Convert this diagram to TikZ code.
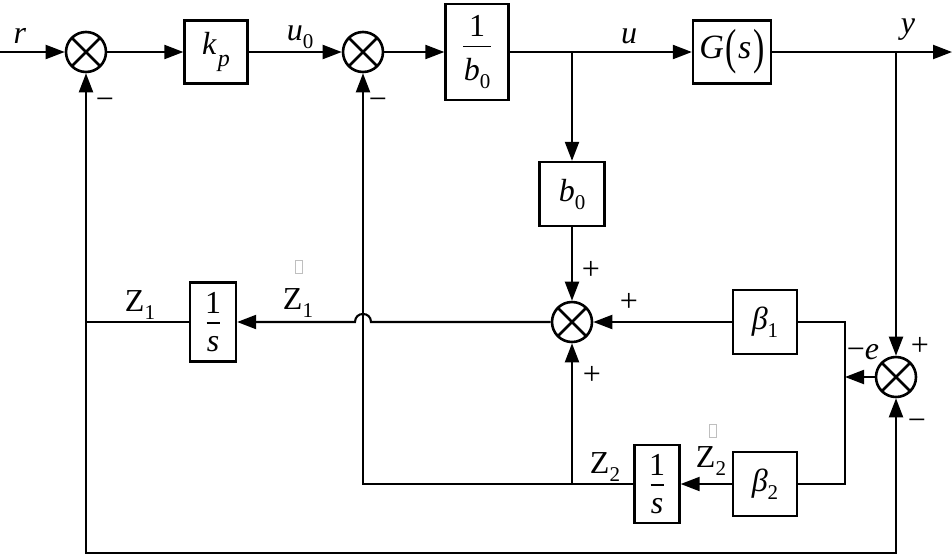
\documentclass[tikz,border=0pt]{standalone}
\usepackage{fontspec}
\usepackage{graphicx}
\setmainfont{Liberation Serif}
\usetikzlibrary{arrows.meta}
\newcommand\sbs[1]{\raisebox{-0.25em}{\fontsize{21}{22}\selectfont #1}}
\newcommand\vfr[5]{\vbox{\baselineskip=0pt\lineskip=0pt\lineskiplimit=0pt
  \halign{\hfil##\hfil\cr #1\cr\noalign{\vskip#3}\rule{#5}{1.3pt}\cr\noalign{\vskip#4}#2\cr}}}
\begin{document}
\begin{tikzpicture}[x=1pt,y=-1pt, line width=2.1pt,
  >={Triangle[length=19pt,width=14pt]},
  font=\fontsize{32}{34}\selectfont,
  blk/.style={draw, line width=2.3pt, inner sep=0pt},
  sumn/.style={circle, draw, line width=2.6pt, minimum size=40pt, inner sep=0pt,
    path picture={\draw[line width=2.6pt] (path picture bounding box.south west) -- (path picture bounding box.north east)
      (path picture bounding box.north west) -- (path picture bounding box.south east);}},
  gbox/.style={draw=black!25, line width=0.7pt, minimum width=7pt, minimum height=13pt, inner sep=0pt}]
\useasboundingbox (0,0) rectangle (952,558);

% blocks
\node[sumn] (s1) at (86,52) {};
\node[blk, minimum width=63, minimum height=63] (kp) at (216,52) {\textit{k}\kern1pt\raisebox{-0.38em}{\fontsize{24}{24}\selectfont\textit{p}}};
\node[sumn] (s2) at (363,52) {};
\node[blk, minimum width=63, minimum height=96] (binv) at (477,52) {\vfr{1}{\textit{b}\sbs{0}}{9pt}{11pt}{28pt}};
\node[blk, minimum width=78, minimum height=63] (G) at (732,52) {\fontsize{34}{36}\selectfont\textit{G}\kern2pt\raisebox{-5pt}{\scalebox{1}[1.45]{(}}\kern1pt\textit{s}\kern2pt\raisebox{-5pt}{\scalebox{1}[1.45]{)}}};
\node[blk, minimum width=65, minimum height=64] (b0) at (572,194) {\textit{b}\sbs{0}};
\node[sumn] (s3) at (572,322) {};
\node[blk, minimum width=64, minimum height=64] (be1) at (765,322) {\textit{β}\sbs{1}};
\node[sumn] (s4) at (896,377) {};
\node[blk, minimum width=64, minimum height=64] (be2) at (765,484) {\textit{β}\sbs{2}};
\node[blk, minimum width=45, minimum height=78] (i2) at (657,484) {\vfr{1}{\textit{s}}{9pt}{13pt}{13pt}};
\node[blk, minimum width=46, minimum height=79] (i1) at (213,322) {\vfr{1}{\textit{s}}{9pt}{13pt}{13pt}};

% free ends and junctions
\coordinate (in) at (0,52);
\coordinate (out) at (952,52);
\coordinate (bu) at (572,52);
\coordinate (by) at (896,52);
\coordinate (ej) at (845,377);
\coordinate (z2j) at (572,484);
\coordinate (z1c) at (86,322);
\coordinate (bl) at (86,553);

% connectors
\draw[->] (in) -- (s1);
\draw[->] (s1) -- (kp);
\draw[->] (kp) -- (s2);
\draw[->] (s2) -- (binv);
\draw[->] (binv) -- (G);
\draw[->] (G) -- (out);
\draw[->] (bu) -- (b0);
\draw[->] (b0) -- (s3);
\draw[->] (be1) -- (s3);
\draw[->] (by) -- (s4);
\draw[->] (s4) -- (ej);
\draw (be1.east) -| (ej) |- (be2.east);
\draw[->] (be2) -- (i2);
\draw[->] (i2) -| (s2);
\draw[->] (z2j) -- (s3);
\draw[->] (s3) -- (371,322) .. controls (371,311.3) and (355,311.3) .. (355,322) -- (i1);
\draw[->] (i1) -| (s1);
\draw[->] (z1c) -- (bl) -| (s4);

% labels
\node (lr) at (20,36) {\textit{r}};
\node (lu0) at (300,37) {\textit{u}\sbs{0}};
\node (lu) at (629,36) {\textit{u}};
\node (ly) at (908,30) {\textit{y}};
\node (m1) at (105,104) {−};
\node (m2) at (378,104) {−};
\node (p1) at (591,270) {+};
\node (p2) at (629,302) {+};
\node (p3) at (592,375) {+};
\node (p4) at (920,346) {+};
\node (me) at (863,352) {−\textit{e}};
\node (m4) at (917,425) {−};
\node (lz1) at (140,305) {Z\sbs{1}};
\node (ldz1) at (298,303) {Z\sbs{1}};
\node[gbox] (q1) at (299,267) {};
\node (lz2) at (605,467) {Z\sbs{2}};
\node (ldz2) at (711,461) {Z\sbs{2}};
\node[gbox] (q2) at (713,431) {};
\end{tikzpicture}
\end{document}
